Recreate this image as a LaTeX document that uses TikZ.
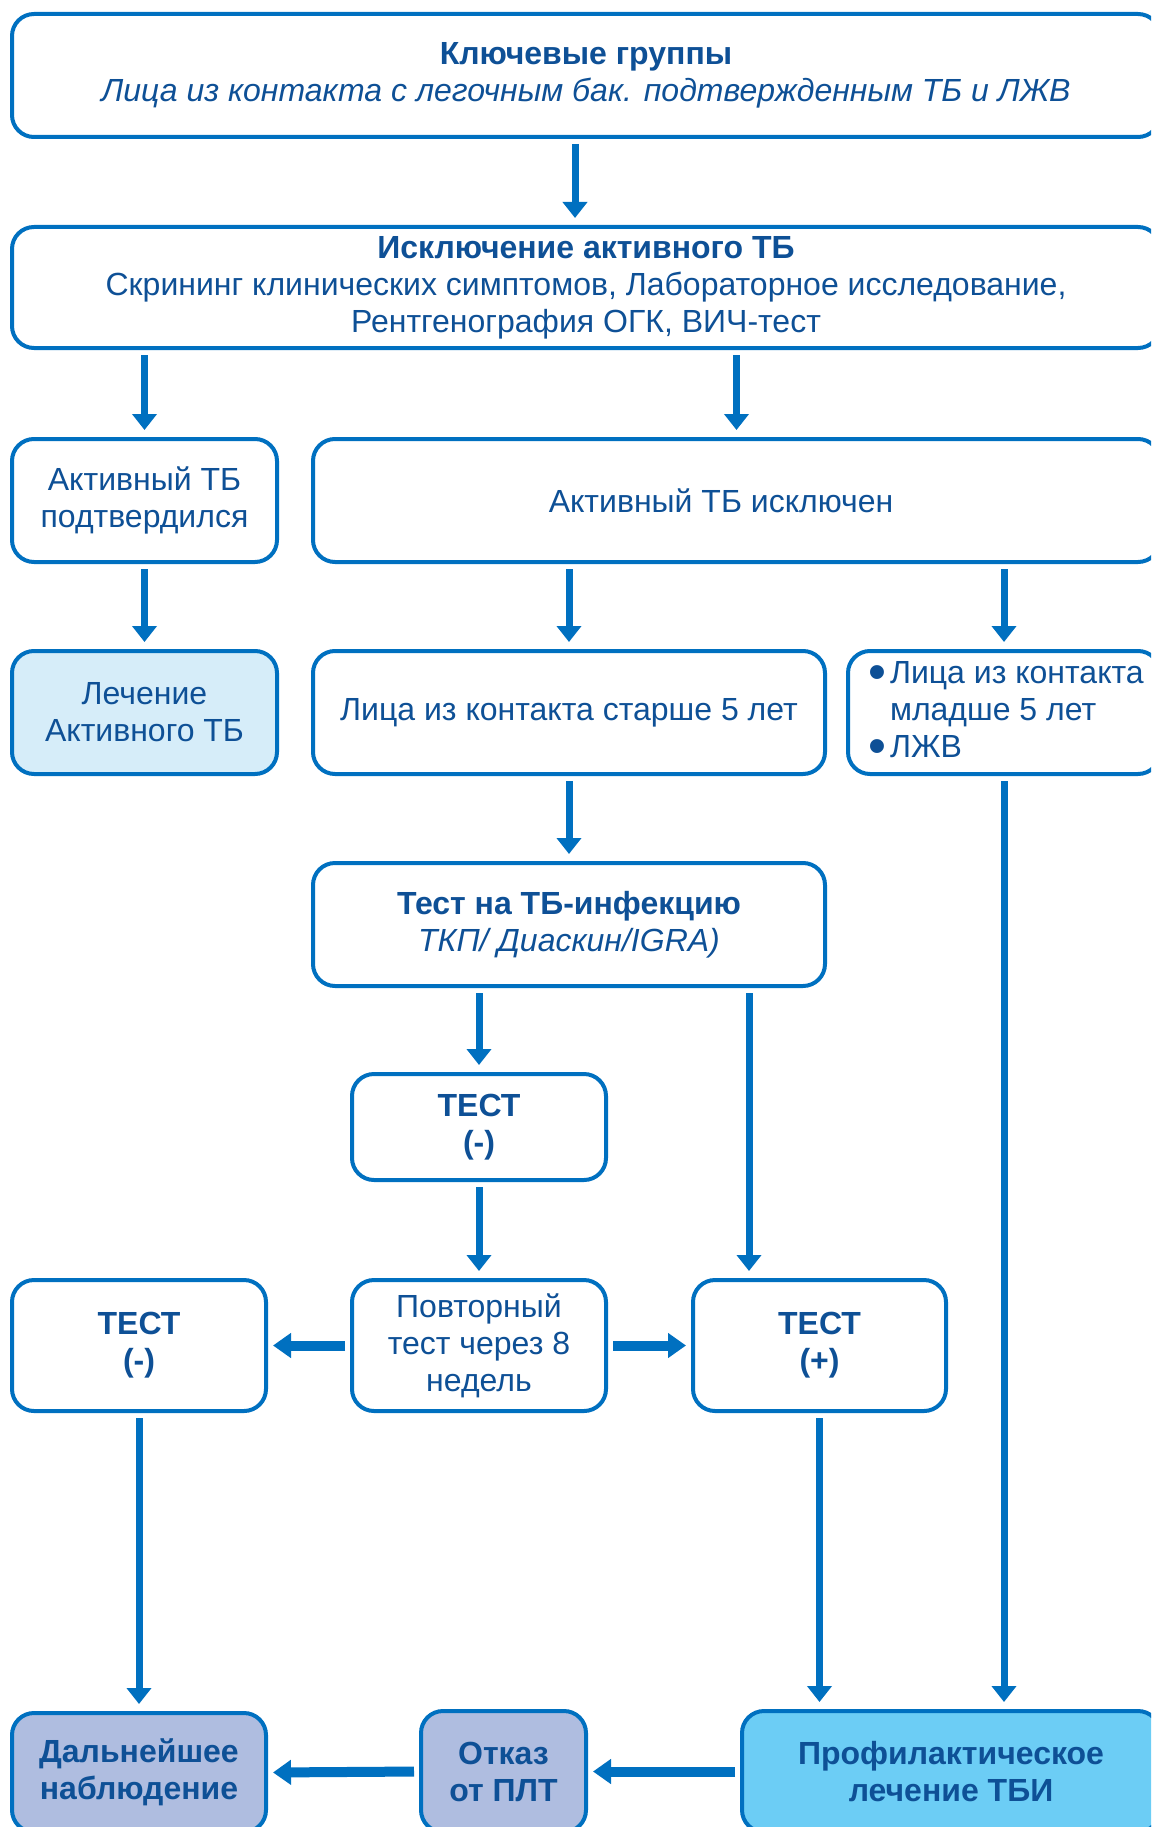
\documentclass[tikz,border=0pt]{standalone}
\usepackage{fontspec}
\usepackage{graphicx}
\setmainfont{Liberation Sans}
\usetikzlibrary{arrows.meta,calc}
\definecolor{strk}{RGB}{0,112,192}
\definecolor{txt}{RGB}{14,80,150}
\definecolor{fillA}{RGB}{214,237,249}
\definecolor{fillB}{RGB}{175,189,224}
\definecolor{fillC}{RGB}{108,205,245}
\newcommand{\bigbul}{\makebox[22pt][l]{\raisebox{-6pt}{\scalebox{1.6}{\textbullet}}}}
\newcommand{\bline}[1]{\makebox[272pt][l]{#1}}
\tikzset{
  box/.style={draw=strk, line width=4pt, rounded corners=22pt, fill=white,
    text=txt, align=center, inner sep=0pt, font=\fontsize{32}{37}\selectfont},
  arr/.style={draw=strk, line width=7pt, -{Triangle[width=24pt,length=16pt]},
    shorten <=5pt, shorten >=7pt},
  harr/.style={draw=strk, line width=10pt, -{Triangle[width=24pt,length=18pt]},
    shorten <=5pt, shorten >=5pt},
}
\begin{document}
\begin{tikzpicture}[x=1pt,y=-1pt]
\clip (0,0) rectangle (1151,1827);
\fill[white] (0,0) rectangle (1151,1827);
% boxes
\node[box, minimum width=1148pt, minimum height=123pt] (top) at (586,75.5)
  {\textbf{Ключевые группы}\\ \textit{Лица из контакта с легочным бак. подтвержденным ТБ и ЛЖВ}};
\node[box, minimum width=1148pt, minimum height=121pt] (b2) at (586,287.5)
  {\textbf{Исключение активного ТБ}\\ Скрининг клинических симптомов, Лабораторное исследование,\\ Рентгенография ОГК, ВИЧ-тест};
\node[box, minimum width=265pt, minimum height=123pt] (b3a) at (144.5,500.5)
  {Активный ТБ\\ подтвердился};
\node[box, minimum width=847pt, minimum height=123pt] (b3b) at (736.5,500.5)
  {\hspace*{-31pt}Активный ТБ исключен};
\node[box, fill=fillA, minimum width=265pt, minimum height=123pt] (b4a) at (144.5,712.5)
  {Лечение\\ Активного ТБ};
\node[box, minimum width=512pt, minimum height=123pt] (b4b) at (569,712.5)
  {Лица из контакта старше 5 лет};
\node[box, minimum width=312pt, minimum height=123pt] (b4c) at (1004,712.5)
  {\bline{\bigbul Лица из контакта}\\
   \bline{\makebox[22pt][l]{}младше 5 лет}\\
   \bline{\bigbul ЛЖВ}};
\node[box, minimum width=512pt, minimum height=123pt] (b5) at (569,924.5)
  {\textbf{Тест на ТБ-инфекцию}\\ \textit{ТКП/ Диаскин/IGRA)}};
\node[box, minimum width=254pt, minimum height=106pt] (b6) at (479,1127)
  {\textbf{ТЕСТ}\\ \textbf{(-)}};
\node[box, minimum width=254pt, minimum height=131pt] (b7a) at (139,1345.5)
  {\textbf{ТЕСТ}\\ \textbf{(-)}};
\node[box, minimum width=254pt, minimum height=131pt] (b7b) at (479,1345.5)
  {Повторный\\ тест через 8\\ недель};
\node[box, minimum width=253pt, minimum height=131pt] (b7c) at (819.5,1345.5)
  {\textbf{ТЕСТ}\\ \textbf{(+)}};
\node[box, fill=fillB, minimum width=254pt, minimum height=119pt] (b8a) at (139,1772.5)
  {\textbf{Дальнейшее}\\ \textbf{наблюдение}};
\node[box, fill=fillB, minimum width=165pt, minimum height=121pt] (b8b) at (503.5,1771.5)
  {\textbf{Отказ}\\ \textbf{от ПЛТ}};
\node[box, fill=fillC, minimum width=418pt, minimum height=121pt] (b8c) at (951,1771.5)
  {\textbf{Профилактическое}\\ \textbf{лечение ТБИ}};
% arrows
\draw[arr] ([xshift=-11pt]top.south) -- ([xshift=-11pt]b2.north);
\draw[arr] (b2.south -| b3a.north) -- (b3a.north);
\draw[arr] (b2.south -| b3b.north) -- (b3b.north);
\draw[arr] (b3a.south) -- (b4a.north);
\draw[arr] (b3b.south -| b4b.north) -- (b4b.north);
\draw[arr] (b3b.south -| b4c.north) -- (b4c.north);
\draw[arr] (b4b.south) -- (b5.north);
\draw[arr] (b5.south -| b6.north) -- (b6.north);
\draw[arr] ([xshift=180pt]b5.south) -- ([xshift=180pt]b5.south |- b7c.north);
\draw[arr] (b6.south) -- (b7b.north);
\draw[harr] (b7b.west) -- (b7a.east);
\draw[harr] (b7b.east) -- (b7c.west);
\draw[arr] (b7a.south) -- (b8a.north);
\draw[arr] (b7c.south) -- (b7c.south |- b8c.north);
\draw[arr] (b4c.south) -- (b4c.south |- b8c.north);
\draw[harr] (b8c.west) -- (b8b.east);
\draw[harr] (b8b.west) -- (b8a.east);
\end{tikzpicture}
\end{document}
